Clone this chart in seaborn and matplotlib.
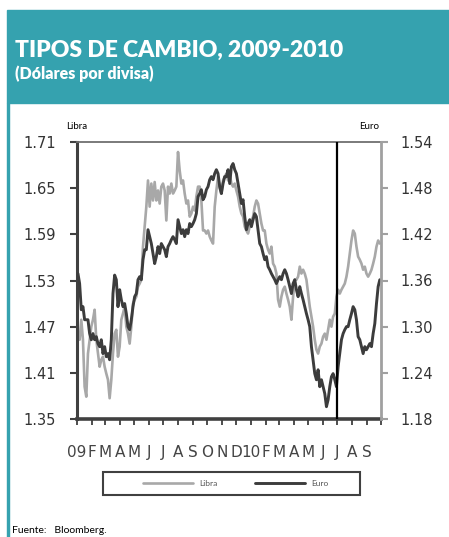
import matplotlib
matplotlib.use("Agg")
import matplotlib.pyplot as plt
import matplotlib.patches as patches
import numpy as np
import pandas as pd
import seaborn as sns

# ---------------- data ----------------
start_date = "2009-01-03"
n_obs = 182
step = "84h"  # ~3.5 days between readings

libra = [
    1.461, 1.453, 1.479, 1.453, 1.392, 1.379, 1.435, 1.453, 1.470, 1.479,
    1.492, 1.453, 1.435, 1.418, 1.427, 1.431, 1.418, 1.409, 1.401, 1.377,
    1.401, 1.435, 1.461, 1.466, 1.431, 1.444, 1.479, 1.487, 1.496, 1.470,
    1.461, 1.448, 1.470, 1.500, 1.505, 1.509, 1.522, 1.526, 1.531, 1.574,
    1.600, 1.626, 1.660, 1.626, 1.656, 1.634, 1.658, 1.634, 1.647, 1.630,
    1.652, 1.656, 1.647, 1.608, 1.652, 1.643, 1.656, 1.643, 1.647, 1.652,
    1.697, 1.673, 1.656, 1.660, 1.643, 1.630, 1.634, 1.613, 1.617, 1.626,
    1.621, 1.639, 1.652, 1.652, 1.634, 1.595, 1.595, 1.591, 1.595, 1.587,
    1.582, 1.578, 1.626, 1.647, 1.665,
    1.650, 1.643, 1.660, 1.665, 1.669, 1.660, 1.669, 1.656, 1.652, 1.656,
    1.647, 1.639, 1.626, 1.617, 1.613, 1.600, 1.595, 1.591, 1.600, 1.608,
    1.613, 1.626, 1.634, 1.630, 1.617, 1.604, 1.595, 1.595, 1.578, 1.570,
    1.565, 1.574, 1.552, 1.548, 1.539, 1.505, 1.496, 1.509, 1.518, 1.522,
    1.513, 1.505, 1.496, 1.479, 1.509,
    1.531, 1.531, 1.535, 1.548, 1.539, 1.544, 1.539, 1.531, 1.513, 1.496,
    1.483, 1.470, 1.453, 1.440, 1.435, 1.444, 1.448, 1.457, 1.461, 1.453,
    1.466, 1.479, 1.470, 1.483, 1.487, 1.509, 1.518, 1.513, 1.518, 1.522,
    1.526, 1.535, 1.548, 1.565, 1.582, 1.595, 1.591, 1.574, 1.561, 1.557,
    1.552, 1.544, 1.548, 1.539, 1.535, 1.539, 1.544, 1.552, 1.561, 1.574,
    1.582, 1.578,
]

euro = [
    1.369, 1.356, 1.322, 1.326, 1.309, 1.309, 1.309, 1.291, 1.283, 1.291,
    1.283, 1.287, 1.278, 1.274, 1.283, 1.265, 1.274, 1.261, 1.265, 1.257,
    1.283, 1.343, 1.367, 1.361, 1.326, 1.348, 1.335, 1.326, 1.330, 1.317,
    1.300, 1.296, 1.309, 1.326, 1.339, 1.343, 1.361, 1.365, 1.361, 1.387,
    1.400, 1.400, 1.426, 1.417, 1.408, 1.395, 1.382, 1.391, 1.404, 1.395,
    1.408, 1.404, 1.400, 1.391, 1.404, 1.408, 1.413, 1.417, 1.413, 1.408,
    1.439, 1.430, 1.421, 1.426, 1.417, 1.426, 1.421, 1.434, 1.430, 1.434,
    1.439, 1.447, 1.469, 1.473, 1.478, 1.465, 1.469, 1.478, 1.482, 1.491,
    1.495, 1.491, 1.499, 1.504, 1.499,
    1.482, 1.473, 1.486, 1.495, 1.495, 1.504, 1.486, 1.508, 1.512, 1.504,
    1.499, 1.486, 1.473, 1.460, 1.465, 1.443, 1.426, 1.434, 1.439, 1.430,
    1.439, 1.447, 1.443, 1.426, 1.408, 1.404, 1.395, 1.387, 1.391, 1.378,
    1.374, 1.369, 1.365, 1.361, 1.356, 1.361, 1.365, 1.361, 1.369, 1.374,
    1.369, 1.361, 1.352, 1.343, 1.356,
    1.361, 1.348, 1.339, 1.352, 1.343, 1.335, 1.326, 1.317, 1.309, 1.300,
    1.274, 1.257, 1.239, 1.231, 1.244, 1.222, 1.231, 1.222, 1.213, 1.196,
    1.205, 1.222, 1.235, 1.239, 1.231, 1.222, 1.248, 1.265, 1.283, 1.291,
    1.296, 1.300, 1.300, 1.309, 1.317, 1.326, 1.322, 1.309, 1.287, 1.283,
    1.274, 1.265, 1.274, 1.270, 1.274, 1.278, 1.274, 1.291, 1.304, 1.330,
    1.352, 1.361,
]

month_labels = ["09", "F", "M", "A", "M", "J", "J", "A", "S", "O", "N", "D",
                "10", "F", "M", "A", "M", "J", "J", "A", "S", ""]
libra_ticks = [1.35, 1.41, 1.47, 1.53, 1.59, 1.65, 1.71]
euro_ticks = [1.18, 1.24, 1.30, 1.36, 1.42, 1.48, 1.54]
marker_date = "2010-07-01"

title = "TIPOS DE CAMBIO, 2009-2010"
subtitle = "(Dólares por divisa)"
source = "Fuente:   Bloomberg."

# ---------------- figure ----------------
sns.set_style("white")
plt.rcParams["font.family"] = ["DejaVu Sans"]

W, H = 449, 537
fig = plt.figure(figsize=(W / 100, H / 100), dpi=100)

def fx(px):
    return px / W

def fy(py):
    return 1 - py / H

TEAL = "#35A2AF"
GRAY = "#a8a8a8"
DARK = "#3c3c3c"

# header box and left border
fig.patches.append(patches.Rectangle((fx(7), fy(103)), fx(449 - 7), 93 / H,
                                     transform=fig.transFigure, color=TEAL, zorder=0))
fig.patches.append(patches.Rectangle((fx(7), 0), fx(2), fy(103),
                                     transform=fig.transFigure, color=TEAL, zorder=0))
fig.text(fx(15), fy(57), title, color="white", fontsize=16.5, fontweight="heavy",
         family="Lato", va="baseline", ha="left")
fig.text(fx(15), fy(79), subtitle, color="white", fontsize=11.5, fontweight="heavy",
         family="Lato", va="baseline", ha="left")

df = pd.DataFrame({
    "fecha": pd.date_range(start_date, periods=n_obs, freq=step),
    "Libra": libra,
    "Euro": euro,
})

ax = fig.add_axes([fx(77), fy(419), fx(381 - 77), 277 / H])
ax2 = ax.twinx()

sns.lineplot(data=df, x="fecha", y="Libra", ax=ax, color=GRAY, lw=1.9, label="Libra", legend=False)
sns.lineplot(data=df, x="fecha", y="Euro", ax=ax2, color=DARK, lw=2.1, label="Euro", legend=False)
ax2.axvline(pd.Timestamp(marker_date), color="black", lw=1.6, zorder=5)

month_ticks = pd.date_range("2009-01-01", "2010-10-01", freq="MS")
ax.set_xlim(month_ticks[0], month_ticks[-1])
ax.set_xticks(month_ticks)
ax.set_xticklabels(month_labels)
ax.set_ylim(libra_ticks[0], libra_ticks[-1])
ax.set_yticks(libra_ticks)
ax.set_yticklabels([f"{v:.2f}" for v in libra_ticks])
ax2.set_ylim(euro_ticks[0], euro_ticks[-1])
ax2.set_yticks(euro_ticks)
ax2.set_yticklabels([f"{v:.2f}" for v in euro_ticks])
ax.set_xlabel("")
ax.set_ylabel("")
ax2.set_ylabel("")

for a in (ax, ax2):
    for s in a.spines.values():
        s.set_visible(False)
ax.spines["left"].set_visible(True)
ax.spines["left"].set_color("#404040")
ax.spines["left"].set_linewidth(2.2)
ax.spines["bottom"].set_visible(True)
ax.spines["bottom"].set_color("#404040")
ax.spines["bottom"].set_linewidth(2.6)
ax.spines["top"].set_visible(True)
ax.spines["top"].set_color("#707070")
ax.spines["top"].set_linewidth(1.3)
ax2.spines["right"].set_visible(True)
ax2.spines["right"].set_color("#a0a0a0")
ax2.spines["right"].set_linewidth(2.0)

ax.tick_params(axis="y", left=True, direction="out", length=5, width=1.5, color="#404040",
               labelsize=10.5, labelcolor="#333333", pad=10)
ax.tick_params(axis="x", bottom=True, direction="out", length=4, width=1.3, color="#404040",
               labelsize=11, labelcolor="#444444", pad=15)
ax2.tick_params(axis="y", right=True, direction="out", length=5, width=1.5, color="#a0a0a0",
                labelsize=10.5, labelcolor="#333333", pad=9)
ax2.tick_params(axis="x", bottom=False, labelbottom=False)

fig.text(fx(66), fy(129), "Libra", fontsize=7, family="Lato", color="black", va="baseline")
fig.text(fx(359), fy(129), "Euro", fontsize=7, family="Lato", color="black", va="baseline")

# legend
fig.patches.append(patches.Rectangle((fx(103), fy(495)), fx(360 - 103), 23 / H,
                                     transform=fig.transFigure, fill=False,
                                     edgecolor="#404040", lw=1.5))
handles = [ax.lines[0], ax2.lines[0]]
leg = fig.legend(handles, ["Libra", "Euro"], loc="center left",
                 bbox_to_anchor=(fx(143), fy(483.5)), ncol=2, frameon=False,
                 fontsize=6, handlelength=6.0, handletextpad=0.7, columnspacing=4.6,
                 borderpad=0, borderaxespad=0)
for t in leg.get_texts():
    t.set_color("#555555")
    t.set_family("Lato")

fig.text(fx(12), fy(533), source, fontsize=7.5, family="Lato", color="black", va="baseline")

fig.savefig("out.png", dpi=100)
